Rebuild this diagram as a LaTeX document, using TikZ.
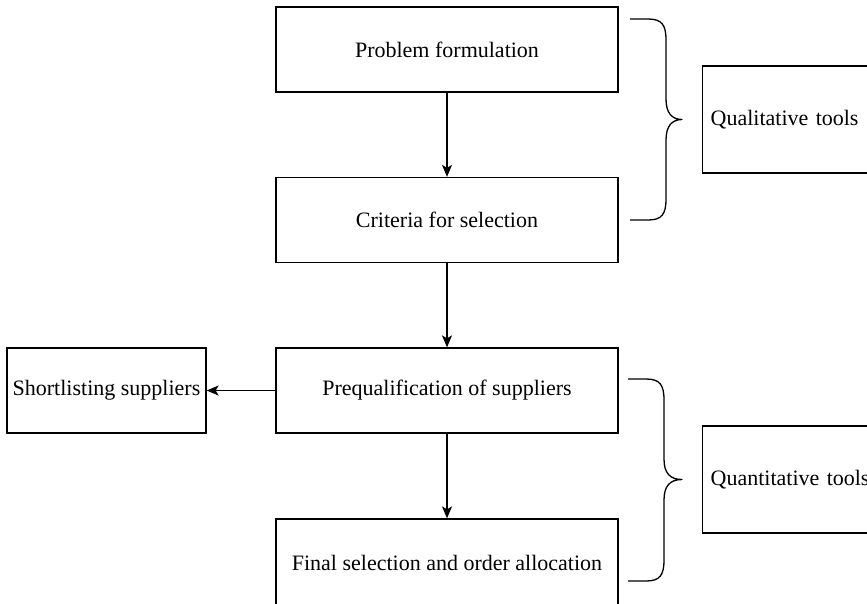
\documentclass[tikz,border=0pt]{standalone}
\usepackage{fontspec}
\setmainfont{Liberation Serif}
\usetikzlibrary{arrows.meta}
\begin{document}
\begin{tikzpicture}[x=1pt,y=-1pt,
  every node/.style={font=\fontsize{22}{26}\selectfont},
  stepbox/.style={draw, line width=1.3pt, rectangle, minimum width=342pt, minimum height=85pt, inner sep=0pt},
  sidebox/.style={draw, line width=1.3pt, rectangle, minimum height=85pt, minimum width=199pt, inner sep=0pt},
  toolbox/.style={draw, line width=1.3pt, rectangle, anchor=west, minimum height=107pt, text width=184pt, align=left, inner sep=8pt},
  flow/.style={line width=1.3pt, -{Stealth[length=12pt, width=10pt, inset=3pt]}},
  brace/.style={line width=1.3pt, line join=round}]
\useasboundingbox (0,0) rectangle (867,603);
\clip (0,0) rectangle (867,603);

% main process steps
\node[stepbox] (prob)  at (447,49.5)  {Problem formulation};
\node[stepbox] (crit)  at (447,220)   {Criteria for selection};
\node[stepbox] (preq)  at (447,390.5) {Prequalification of suppliers};
\node[stepbox, minimum height=89pt] (final) at (447,563.5) {\raisebox{2pt}{Final selection and order allocation}};

% side step
\node[sidebox] (short) at (106.5,390.5) {Shortlisting suppliers};

% tool groups
\node[toolbox] (qual)  at (702,119.5) {Qualitative tools};
\node[toolbox] (quant) at (702,479.5) {Quantitative tools};

% connectors
\draw[flow] (prob) -- (crit);
\draw[flow] (crit) -- (preq);
\draw[flow] (preq) -- (final);
\draw[flow] (preq) -- (short);

% braces grouping the steps
\draw[brace] (630,19) -- (648,19) .. controls (662,19) and (666,25) .. (666,40)
  -- (666,99) .. controls (666,113) and (672,119.5) .. (682,119.5)
  .. controls (672,119.5) and (666,126) .. (666,140)
  -- (666,199) .. controls (666,214) and (662,220) .. (648,220) -- (630,220);
\draw[brace] (628,379) -- (646,379) .. controls (660,379) and (664,385) .. (664,400)
  -- (664,459) .. controls (664,473) and (670,479.5) .. (682,479.5)
  .. controls (670,479.5) and (664,486) .. (664,500)
  -- (664,560) .. controls (664,575) and (660,581) .. (646,581) -- (628,581);
\end{tikzpicture}
\end{document}
